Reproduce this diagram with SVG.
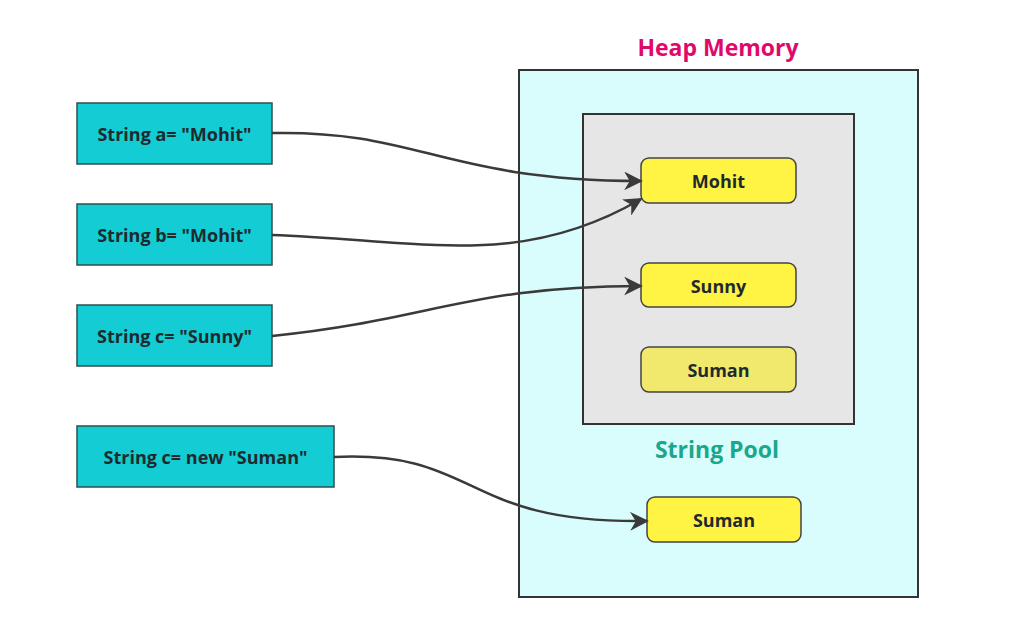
<svg xmlns="http://www.w3.org/2000/svg" width="1024" height="641" viewBox="0 0 1024 641">
<style>
.var{fill:#13ccd4;stroke:#2f4f4f;stroke-width:1.5}
.str{fill:#fff344;stroke:#444;stroke-width:1.5}
.t{font-family:"Open Sans","Noto Sans",sans-serif;font-weight:bold;font-size:18px;fill:#1e2a2e;text-anchor:middle;dominant-baseline:central}
.c{fill:none;stroke:#3a3a3a;stroke-width:2.5}
</style>
<defs>
<marker id="ah" viewBox="0 0 10 10" refX="9" refY="5" markerWidth="7.5" markerHeight="7.5" markerUnits="strokeWidth" orient="auto">
<path d="M0,0 L10,5 L0,10 L3,5 Z" fill="#3a3a3a"/>
</marker>
</defs>
<rect width="1024" height="641" fill="#fff"/>
<g id="heap">
<rect x="519" y="70" width="399" height="527" fill="#d9fdfd" stroke="#333" stroke-width="2"/>
<text x="718" y="47" class="t" style="fill:#e0096b;font-size:23px">Heap Memory</text>
</g>
<g id="pool">
<rect x="583" y="114" width="271" height="310" fill="#e6e6e6" stroke="#333" stroke-width="2"/>
<text x="717" y="449" class="t" style="fill:#1aa78b;font-size:23px">String Pool</text>
</g>
<g id="mohit"><rect x="641" y="158" width="155" height="45" rx="8" class="str"/><text x="718.5" y="181" class="t">Mohit</text></g>
<g id="sunny"><rect x="641" y="263" width="155" height="44" rx="8" class="str"/><text x="718.5" y="286" class="t">Sunny</text></g>
<g id="suman-pool"><rect x="641" y="347" width="155" height="45" rx="8" class="str" style="fill:#f1e86e"/><text x="718.5" y="370" class="t">Suman</text></g>
<g id="suman-heap"><rect x="647" y="497" width="154" height="45" rx="8" class="str"/><text x="724" y="520" class="t">Suman</text></g>
<g id="va"><rect x="77" y="103" width="195" height="61" class="var"/><text x="174.5" y="134" class="t">String a= "Mohit"</text></g>
<g id="vb"><rect x="77" y="204" width="195" height="61" class="var"/><text x="174.5" y="235" class="t">String b= "Mohit"</text></g>
<g id="vc"><rect x="77" y="305" width="195" height="61" class="var"/><text x="174.5" y="336" class="t">String c= "Sunny"</text></g>
<g id="vd"><rect x="77" y="426" width="257" height="61" class="var"/><text x="205.5" y="457" class="t">String c= new "Suman"</text></g>
<g id="connectors">
<path class="c" marker-end="url(#ah)" d="M272,133 C420,130 440,180 641,181"/>
<path class="c" marker-end="url(#ah)" d="M272,235 C420,240 520,270 641,199"/>
<path class="c" marker-end="url(#ah)" d="M272,336 C430,320 470,286 641,286"/>
<path class="c" marker-end="url(#ah)" d="M334,457 C480,450 460,524 647,521"/>
</g>
</svg>
